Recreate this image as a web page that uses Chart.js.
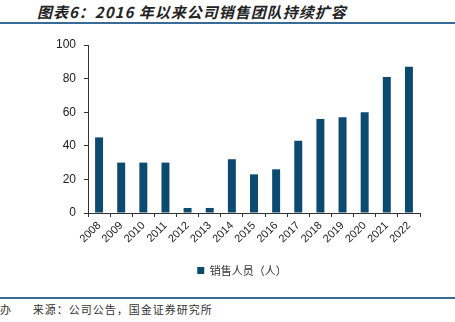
<!DOCTYPE html>
<html>
<head>
<meta charset="utf-8">
<script src="https://cdn.jsdelivr.net/npm/chart.js@4.4.0/dist/chart.umd.min.js"></script>
<style>
  html, body { margin: 0; padding: 0; background: #fff; }
  #wrap { position: relative; width: 455px; height: 322px; overflow: hidden; font-family: "Liberation Sans", Arial, sans-serif; }
  #title { position: absolute; left: 37px; top: 1px; font-family: "Noto Sans CJK SC", sans-serif; font-weight: bold; font-style: italic; font-size: 15px; letter-spacing: 1px; color: #222; white-space: nowrap; }
  .rule { position: absolute; left: 0; width: 455px; height: 2px; background: #3a6a96; }
  #source { position: absolute; left: 0; top: 301px; font-family: "Noto Sans CJK SC", sans-serif; font-size: 11px; color: #333; white-space: nowrap; letter-spacing: 1px; }
  #c { position: absolute; left: 0; top: 0; }
</style>
</head>
<body>
<div id="wrap">
  <div id="title">图表6：2016 年以来公司销售团队持续扩容</div>
  <div class="rule" style="top:22px"></div>
  <canvas id="c" width="455" height="290"></canvas>
  <div class="rule" style="top:297px"></div>
  <div id="source">办&nbsp;&nbsp;&nbsp;&nbsp;&nbsp;&nbsp;来源：公司公告，国金证券研究所</div>
</div>
<script>
// Sales headcount by year
const years = ['2008','2009','2010','2011','2012','2013','2014','2015','2016','2017','2018','2019','2020','2021','2022'];
const salesStaff = [45, 30, 30, 30, 3, 3, 32, 23, 26, 43, 56, 57, 60, 81, 87];
const yTicks = [0, 20, 40, 60, 80, 100];
const seriesName = '销售人员（人）';

const axisColor = '#333';

// Nudge the legend to the right so it sits under the middle of the plot
const legendShift = {
  id: 'legendShift',
  afterLayout(chart) {
    const lg = chart.legend;
    if (lg) { lg.left += 27; lg.right += 27; }
  }
};

new Chart(document.getElementById('c'), {
  type: 'bar',
  data: {
    labels: years,
    datasets: [{
      label: seriesName,
      data: salesStaff,
      backgroundColor: '#0c4a70',
      barPercentage: 0.72,
      categoryPercentage: 0.5
    }]
  },
  plugins: [legendShift],
  options: {
    responsive: false,
    animation: false,
    layout: { padding: { left: 10, right: 35, top: 45, bottom: 4 } },
    plugins: {
      legend: {
        position: 'bottom',
        labels: {
          boxWidth: 7, boxHeight: 7, color: '#333',
          font: { family: '"Noto Sans CJK SC", sans-serif', size: 11 },
          padding: 6
        }
      },
      tooltip: { enabled: false }
    },
    scales: {
      x: {
        grid: { display: true, offset: true, drawOnChartArea: false, drawTicks: true, tickLength: 4, tickColor: axisColor },
        border: { display: true, color: axisColor, width: 1 },
        ticks: {
          color: '#222', maxRotation: 45, minRotation: 45, padding: 2, autoSkip: false,
          font: { family: '"Liberation Sans", Arial, sans-serif', size: 11 }
        },
        afterFit: s => { s.height = 46; }
      },
      y: {
        min: 0, max: 100,
        afterBuildTicks: s => { s.ticks = yTicks.map(v => ({ value: v })); },
        grid: { display: true, drawOnChartArea: false, drawTicks: true, tickLength: 4, tickColor: axisColor },
        border: { display: true, color: axisColor, width: 1 },
        ticks: {
          color: '#222', padding: 8,
          font: { family: '"Liberation Sans", Arial, sans-serif', size: 12 }
        },
        afterFit: s => { s.width = 78; }
      }
    }
  }
});
</script>
</body>
</html>
